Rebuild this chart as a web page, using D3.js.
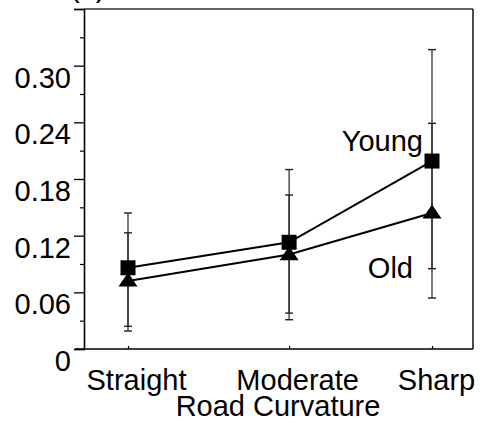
<!DOCTYPE html>
<html><head><meta charset="utf-8">
<script src="https://cdn.jsdelivr.net/npm/d3@7"></script>
<style>
html,body{margin:0;padding:0;background:#fff;}
text{font-family:"Liberation Sans",Arial,Helvetica,sans-serif;fill:#000;}
</style></head>
<body>
<svg id="c" width="484" height="423"></svg>
<script>
const categories = ["Straight", "Moderate", "Sharp"];
const xLevel = [0, 1.06, 2];
const youngMean = [0.086, 0.113, 0.199];
const youngHigh = [0.144, 0.190, 0.317];
const youngLow  = [0.024, 0.031, 0.085];
const oldMean = [0.072, 0.100, 0.144];
const oldHigh = [0.123, 0.163, 0.239];
const oldLow  = [0.019, 0.038, 0.054];
const majorTicks = [0, 0.06, 0.12, 0.18, 0.24, 0.30, 0.36];
const minorTicks = [0.03, 0.09, 0.15, 0.21, 0.27, 0.33];
const tickLabels = ["0", "0.06", "0.12", "0.18", "0.24", "0.30", ""];

const svg = d3.select("#c");
const L = 84, R = 473, T = 9, B = 349;
const x = d3.scaleLinear().domain([0, 2]).range([128, 432]);
const y = d3.scaleLinear().domain([0, 0.36]).range([B, T]);
const fs = 29;

// frame
svg.append("line").attr("x1", L).attr("x2", R).attr("y1", T).attr("y2", T)
  .attr("stroke", "#333").attr("stroke-width", 1.3);
svg.append("line").attr("x1", R).attr("x2", R).attr("y1", T).attr("y2", B)
  .attr("stroke", "#111").attr("stroke-width", 1.5);

// y axis
const yAxis = d3.axisLeft(y).tickValues(majorTicks).tickSize(10).tickPadding(3)
  .tickFormat((d, i) => tickLabels[i]);
const ya = svg.append("g").attr("transform", `translate(${L},0)`).call(yAxis);
ya.select(".domain").attr("stroke", "#000").attr("stroke-width", 1.6);
ya.selectAll(".tick line").attr("stroke", "#000").attr("stroke-width", 1.3);
ya.selectAll(".tick text").attr("font-size", fs).attr("dy", "0.74em")
  .attr("x", -13).style("font-family", "'Liberation Sans', Arial, sans-serif");
const yMinor = d3.axisLeft(y).tickValues(minorTicks).tickSize(4).tickFormat("");
const ym = svg.append("g").attr("transform", `translate(${L},0)`).call(yMinor);
ym.select(".domain").remove();
ym.selectAll(".tick line").attr("stroke", "#000").attr("stroke-width", 1.2);

// x axis
const xAxis = d3.axisBottom(x).tickValues(xLevel).tickSize(-3).tickPadding(0)
  .tickFormat((d, i) => categories[i]);
const xa = svg.append("g").attr("transform", `translate(0,${B})`).call(xAxis);
xa.select(".domain").remove();
svg.append("line").attr("x1", L - 9).attr("x2", R).attr("y1", B).attr("y2", B)
  .attr("stroke", "#000").attr("stroke-width", 1.6);
xa.selectAll(".tick line").attr("stroke", "#000").attr("stroke-width", 1.2);
xa.selectAll(".tick text").attr("font-size", fs).attr("dy", null).attr("y", 41)
  .attr("dx", (d, i) => i === 2 ? 4 : 8)
  .style("font-family", "'Liberation Sans', Arial, sans-serif");

svg.append("text").attr("x", 278).attr("y", 416).attr("text-anchor", "middle")
  .attr("font-size", fs).text("Road Curvature");
svg.append("text").attr("x", 70).attr("y", -3).attr("font-size", fs).text("(a)");

// lines
const line = d3.line().x(d => x(d[0])).y(d => y(d[1]));
const youngPts = xLevel.map((v, i) => [v, youngMean[i]]);
const oldPts = xLevel.map((v, i) => [v, oldMean[i]]);
svg.append("path").attr("d", line(youngPts)).attr("fill", "none")
  .attr("stroke", "#000").attr("stroke-width", 2);
svg.append("path").attr("d", line(oldPts)).attr("fill", "none")
  .attr("stroke", "#000").attr("stroke-width", 2);

// error bars
function errBars(low, high) {
  const g = svg.append("g").attr("stroke", "#222").attr("stroke-width", 1.2);
  xLevel.forEach((v, i) => {
    const cx = x(v);
    g.append("line").attr("x1", cx).attr("x2", cx).attr("y1", y(low[i])).attr("y2", y(high[i]));
    [low[i], high[i]].forEach(e => {
      g.append("line").attr("x1", cx - 4).attr("x2", cx + 4).attr("y1", y(e)).attr("y2", y(e))
        .attr("stroke-width", 1.4);
    });
  });
}
errBars(youngLow, youngHigh);
errBars(oldLow, oldHigh);

// markers
const sq = 15;
svg.append("g").selectAll("rect").data(youngPts).join("rect")
  .attr("x", d => x(d[0]) - sq / 2).attr("y", d => y(d[1]) - sq / 2)
  .attr("width", sq).attr("height", sq).attr("fill", "#000");
const tw = 19, th = 14;
svg.append("g").selectAll("path.tri").data(oldPts).join("path")
  .attr("class", "tri")
  .attr("d", d => {
    const cx = x(d[0]), cy = y(d[1]);
    return `M${cx},${cy - th * 0.6}L${cx + tw / 2},${cy + th * 0.4}L${cx - tw / 2},${cy + th * 0.4}Z`;
  })
  .attr("fill", "#000");

// series labels
svg.append("text").attr("x", x(2) - 9).attr("y", y(youngMean[2]) - 10)
  .attr("text-anchor", "end").attr("font-size", fs).text("Young");
svg.append("text").attr("x", x(2) - 19).attr("y", y(oldMean[2]) + 65)
  .attr("text-anchor", "end").attr("font-size", fs).text("Old");
</script>
</body></html>
